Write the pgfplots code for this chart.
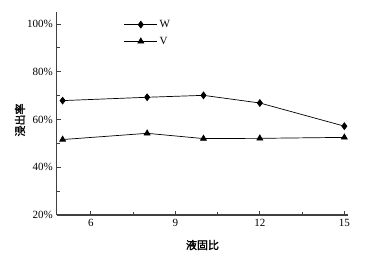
\documentclass[border=0pt]{standalone}
\usepackage{pgfplots}
\pgfplotsset{compat=1.18}
\usepackage{fontspec}
\setmainfont{Liberation Serif}
\newfontfamily\cjk{Noto Sans CJK SC}[FakeBold=1.5]
\definecolor{axgray}{HTML}{404040}
\begin{document}
\begin{tikzpicture}
\useasboundingbox (-56.7pt,-42pt) rectangle (327.3pt,215pt);
\begin{axis}[
  at={(0pt,0pt)}, anchor=origin,
  scale only axis, width=291.6pt, height=203pt,
  xmin=4.79, xmax=15.14, ymin=20, ymax=105,
  axis x line*=bottom, axis y line*=left,
  axis line style={axgray, line width=1.1pt, -},
  xtick={6,9,12,15}, minor xtick={7.5,10.5,13.5},
  ytick={20,40,60,80,100}, minor ytick={30,50,70,90},
  yticklabel={\pgfmathprintnumber{\tick}\%},
  tick align=inside,
  major tick length=4pt, minor tick length=3pt,
  tick style={axgray, line width=0.8pt},
  /pgf/number format/assume math mode=true,
  tick label style={font=\fontsize{11}{13}\selectfont},
  xticklabel style={yshift=-1pt},
  yticklabel style={xshift=-0.5pt},
  xlabel={\cjk\fontsize{11}{13}\selectfont 液固比},
  ylabel={\cjk\fontsize{11}{13}\selectfont 浸出率},
  xlabel style={at={(axis description cs:0.5,0)}, anchor=center, yshift=-30pt},
  ylabel style={at={(axis description cs:-0.126,0.468)}, anchor=center},
  legend style={draw=none, fill=none, at={(0.23,0.97)}, anchor=north west,
    font=\fontsize{11}{13}\selectfont, row sep=4pt, inner sep=0pt},
  legend cell align=left,
  legend image code/.code={\draw[mark repeat=2,mark phase=2] plot coordinates {(0pt,0pt)(16.5pt,0pt)(33pt,0pt)};},
]
\addplot[black, line width=0.7pt, mark=diamond*, mark size=3.4pt, mark options={fill=black}]
  coordinates {(5,67.9) (8,69.3) (10,70.1) (12,66.9) (15,57.2)};
\addlegendentry{W}
\addplot[black, line width=0.7pt, mark=triangle*, mark size=3.4pt, mark options={fill=black}]
  coordinates {(5,51.6) (8,54.2) (10,52.0) (12,52.1) (15,52.5)};
\addlegendentry{V}
\end{axis}
\end{tikzpicture}
\end{document}
